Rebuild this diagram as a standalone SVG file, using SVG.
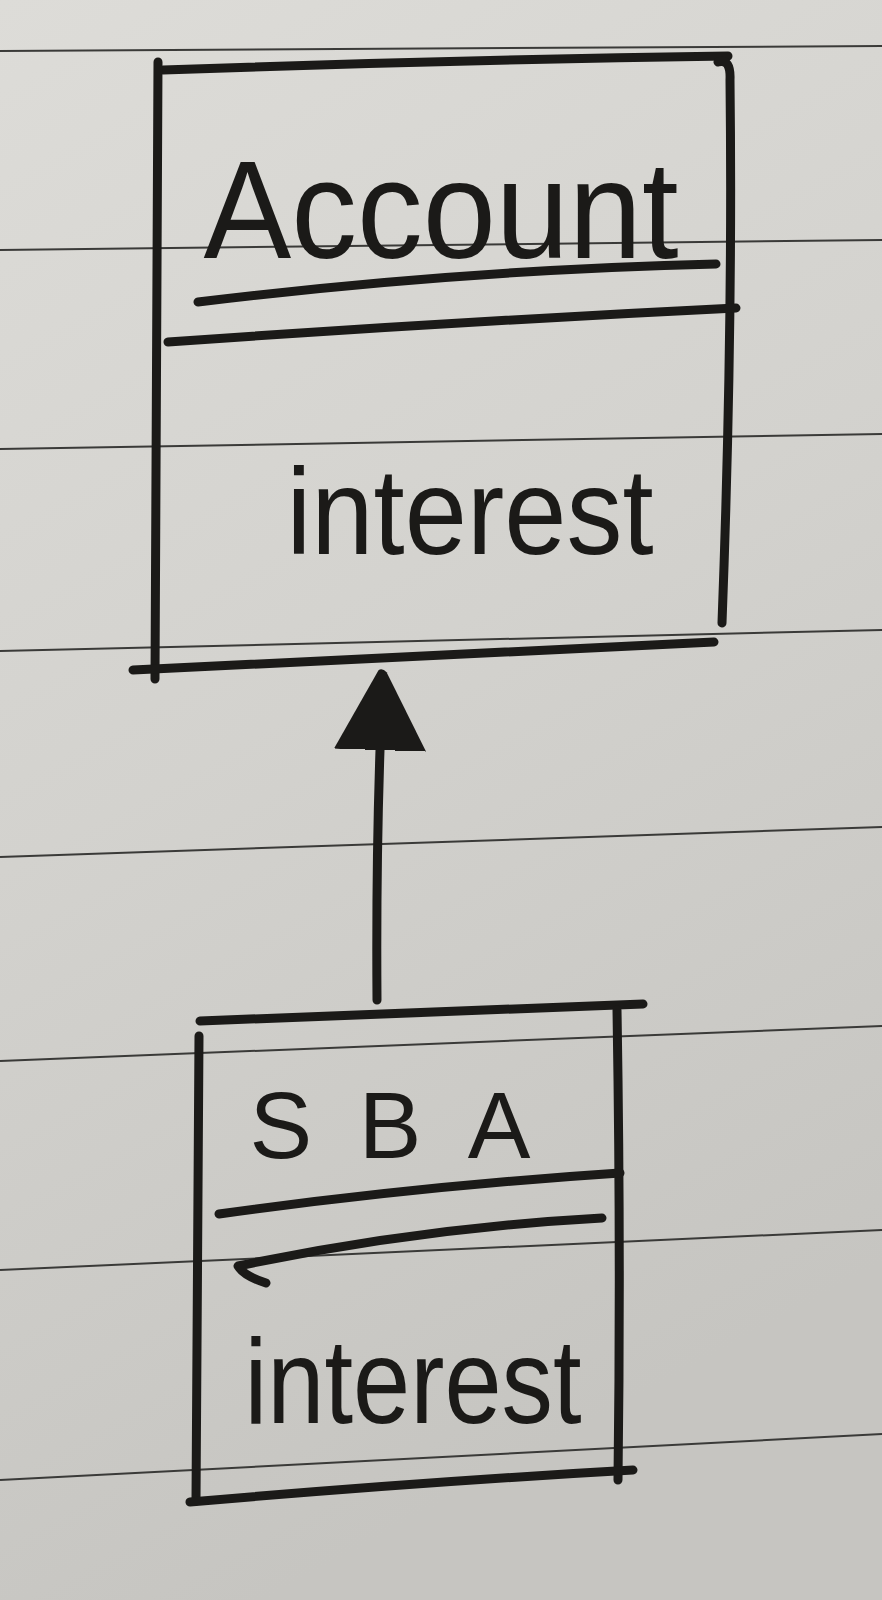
<svg xmlns="http://www.w3.org/2000/svg" width="882" height="1600" viewBox="0 0 882 1600">
  <defs>
    <linearGradient id="paper" x1="0" y1="0" x2="0.3" y2="1">
      <stop offset="0" stop-color="#dddcd8"/>
      <stop offset="0.5" stop-color="#d3d2ce"/>
      <stop offset="1" stop-color="#c6c5c1"/>
    </linearGradient>
    <marker id="head" viewBox="0 0 82 96" refX="0" refY="48" markerWidth="82" markerHeight="96" markerUnits="userSpaceOnUse" orient="auto">
      <path d="M0,2 L80,44 Q82,48 78,52 L0,94 Q-3,48 0,2 Z" fill="#1b1a18"/>
    </marker>
    <style>
      .rule { stroke: #3a3a38; stroke-width: 2; fill: none; }
      .ink { stroke: #1b1a18; stroke-width: 9; fill: none; stroke-linecap: round; stroke-linejoin: round; }
      .hand { font-family: "Liberation Sans", Arial, sans-serif; fill: #1b1a18; text-anchor: middle; }
    </style>
  </defs>

  <rect x="0" y="0" width="882" height="1600" fill="url(#paper)"/>

  <g id="ruled-lines">
    <line class="rule" x1="0" y1="51" x2="882" y2="46"/>
    <line class="rule" x1="0" y1="250" x2="882" y2="240"/>
    <line class="rule" x1="0" y1="449" x2="882" y2="434"/>
    <line class="rule" x1="0" y1="651" x2="882" y2="630"/>
    <line class="rule" x1="0" y1="857" x2="882" y2="827"/>
    <line class="rule" x1="0" y1="1061" x2="882" y2="1026"/>
    <line class="rule" x1="0" y1="1270" x2="882" y2="1230"/>
    <line class="rule" x1="0" y1="1480" x2="882" y2="1434"/>
  </g>

  <g id="account">
    <path class="ink" d="M163,70 Q450,60 728,56"/>
    <path class="ink" d="M158,62 Q157,380 155,679"/>
    <path class="ink" d="M718,62 Q731,58 730,80 Q733,330 722,623"/>
    <path class="ink" d="M133,670 Q420,656 714,642"/>
    <path class="ink" d="M168,342 Q450,322 736,308"/>
    <path class="ink" d="M198,302 Q460,270 716,264"/>
    <text class="hand" x="441" y="258" font-size="140" textLength="475" lengthAdjust="spacingAndGlyphs">Account</text>
    <text class="hand" x="470" y="554" font-size="122" textLength="367" lengthAdjust="spacingAndGlyphs">interest</text>
  </g>

  <g id="connectors">
    <path class="ink" d="M377,1000 Q376,870 380,750" marker-end="url(#head)"/>
  </g>

  <g id="sba">
    <path class="ink" d="M200,1021 Q420,1012 643,1004"/>
    <path class="ink" d="M199,1036 Q198,1270 196,1501"/>
    <path class="ink" d="M617,1010 Q621,1250 618,1480"/>
    <path class="ink" d="M190,1502 Q420,1482 633,1470"/>
    <path class="ink" d="M219,1214 Q420,1186 620,1173"/>
    <path class="ink" d="M266,1283 Q244,1276 238,1266 Q420,1228 602,1218"/>
    <text class="hand" x="390" y="1158" font-size="94" textLength="281" lengthAdjust="spacing">SBA</text>
    <text class="hand" x="413" y="1423" font-size="120" textLength="337" lengthAdjust="spacingAndGlyphs">interest</text>
  </g>
</svg>
